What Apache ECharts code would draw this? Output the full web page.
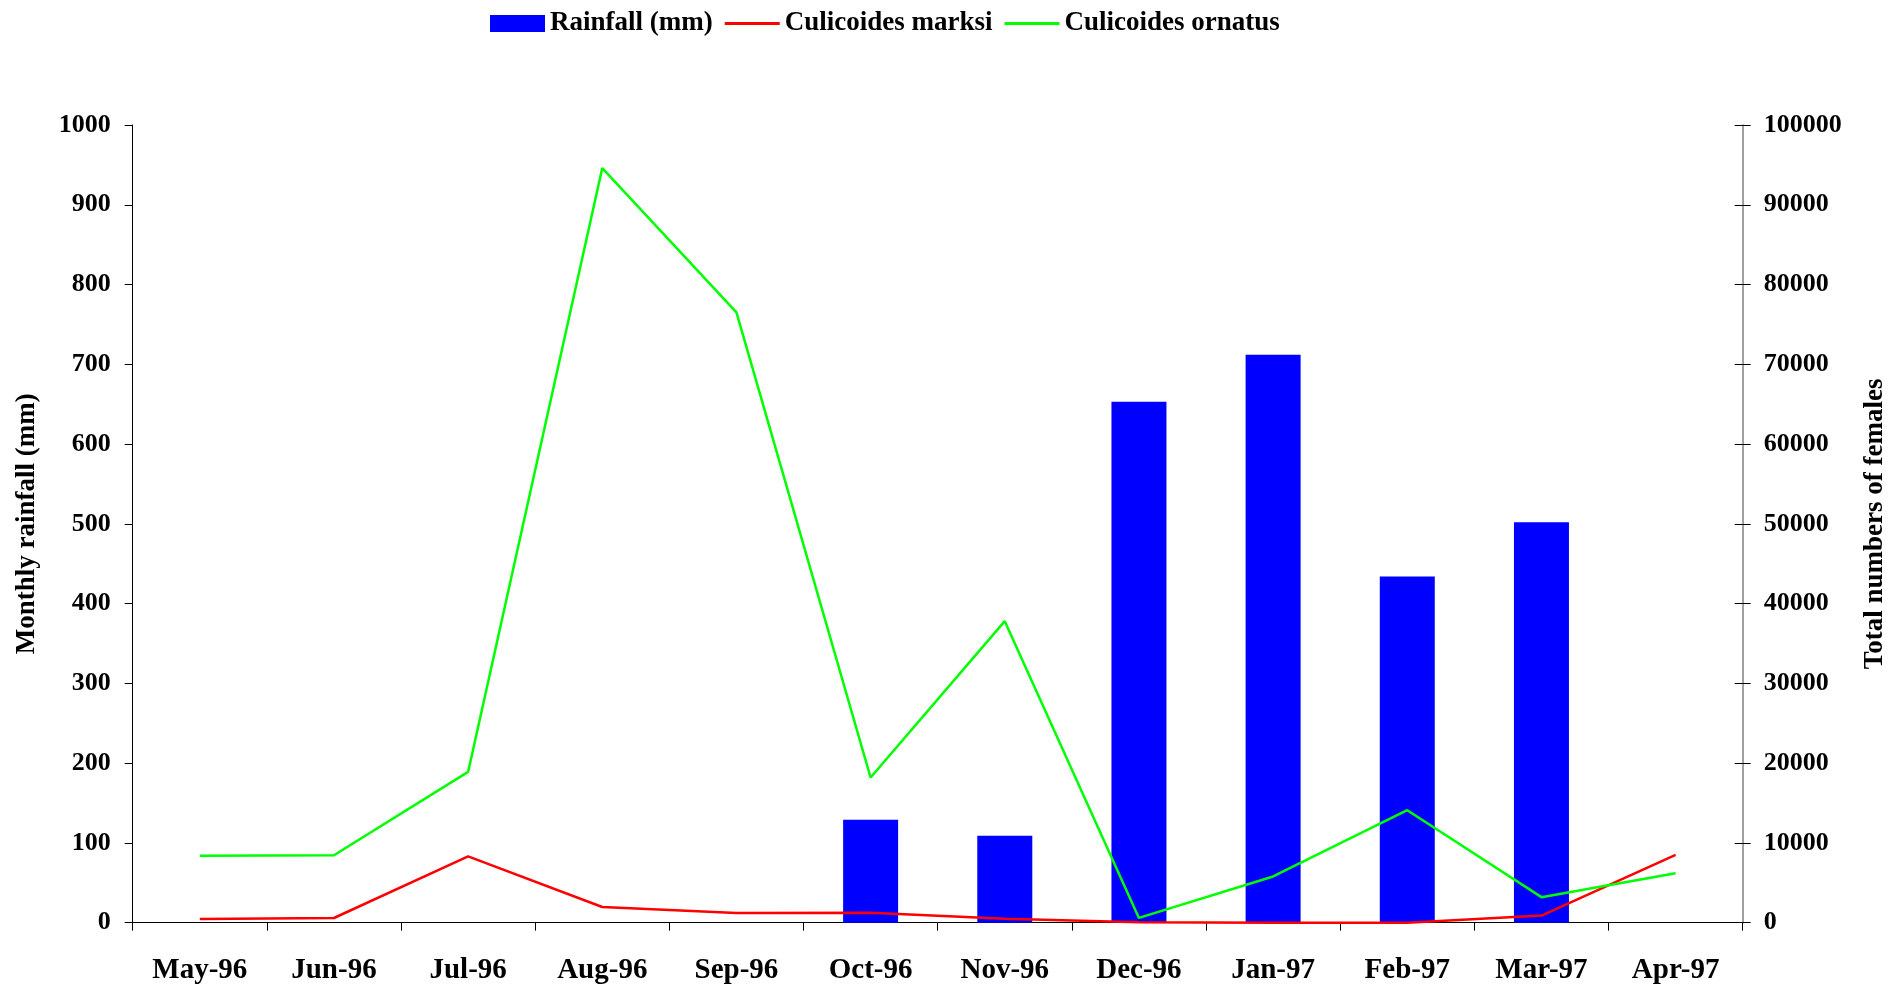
<!DOCTYPE html>
<html>
<head>
<meta charset="utf-8">
<script src="https://cdn.jsdelivr.net/npm/echarts@6/dist/echarts.min.js"></script>
<style>
html,body{margin:0;padding:0;background:#fff;}
#chart{width:1901px;height:987px;}
</style>
</head>
<body>
<div id="chart"></div>
<script>
const categories = ['May-96','Jun-96','Jul-96','Aug-96','Sep-96','Oct-96','Nov-96','Dec-96','Jan-97','Feb-97','Mar-97','Apr-97'];
const rainfall = [0, 0, 0, 0, 0, 129, 109, 653, 712, 434, 502, 0];
const marksi = [460, 590, 8320, 1970, 1220, 1250, 500, 50, 0, 0, 900, 8500];
const ornatus = [8400, 8450, 18900, 94600, 76500, 18200, 37800, 600, 5800, 14100, 3200, 6200];

const FONT = 'Liberation Serif';
const plain = v => String(v);
const lineIcon = 'path://M0,0 L56,0 L56,3 L0,3 Z';
const chart = echarts.init(document.getElementById('chart'));
chart.setOption({
  animation: false,
  backgroundColor: '#ffffff',
  textStyle: {fontFamily: FONT},
  legend: {
    left: 485, top: 5,
    itemWidth: 55, itemHeight: 17, itemGap: 12,
    textStyle: {fontFamily: FONT, fontWeight: 'bold', fontSize: 27, color: '#000'},
    data: [
      {name: 'Rainfall (mm)', icon: 'rect'},
      {name: 'Culicoides marksi', icon: lineIcon},
      {name: 'Culicoides ornatus', icon: lineIcon}
    ]
  },
  grid: {left: 132.7, right: 158.3, top: 125, bottom: 64.3, containLabel: false},
  xAxis: {
    type: 'category',
    data: categories,
    boundaryGap: true,
    axisLine: {lineStyle: {color: '#000', width: 1}},
    axisTick: {show: true, length: 8, inside: false, lineStyle: {color: '#000'}},
    axisLabel: {fontFamily: FONT, fontWeight: 'bold', fontSize: 29, color: '#000', margin: 33, interval: 0},
    splitLine: {show: false}
  },
  yAxis: [
    {
      type: 'value', min: 0, max: 1000, interval: 100, position: 'left',
      name: 'Monthly rainfall (mm)', nameLocation: 'middle', nameRotate: 90, nameGap: 92,
      nameTextStyle: {fontFamily: FONT, fontWeight: 'bold', fontSize: 27, color: '#000'},
      axisLine: {show: true, lineStyle: {color: '#000', width: 1}},
      axisTick: {show: true, length: 8, inside: false, lineStyle: {color: '#000'}},
      axisLabel: {fontFamily: FONT, fontWeight: 'bold', fontSize: 26, color: '#000', margin: 22, formatter: plain},
      splitLine: {show: false}
    },
    {
      type: 'value', min: 0, max: 100000, interval: 10000, position: 'right',
      name: 'Total numbers of females', nameLocation: 'middle', nameRotate: 90, nameGap: 119,
      nameTextStyle: {fontFamily: FONT, fontWeight: 'bold', fontSize: 27, color: '#000'},
      axisLine: {show: true, lineStyle: {color: '#808080', width: 1.5}},
      axisTick: {show: true, length: 8, inside: false, lineStyle: {color: '#000'}},
      axisLabel: {fontFamily: FONT, fontWeight: 'bold', fontSize: 26, color: '#000', margin: 21, formatter: plain},
      splitLine: {show: false}
    },
    {
      type: 'value', min: 0, max: 100000, interval: 10000, position: 'right',
      axisLine: {show: false},
      axisTick: {show: true, length: 8, inside: true, lineStyle: {color: '#000'}},
      axisLabel: {show: false},
      splitLine: {show: false}
    }
  ],
  series: [
    {
      name: 'Rainfall (mm)', type: 'bar', yAxisIndex: 0, data: rainfall,
      barWidth: 55, itemStyle: {color: '#0000ff'}
    },
    {
      name: 'Culicoides marksi', type: 'line', yAxisIndex: 1, data: marksi,
      symbol: 'none', itemStyle: {color: '#ff0000'},
      lineStyle: {color: '#ff0000', width: 2.5}
    },
    {
      name: 'Culicoides ornatus', type: 'line', yAxisIndex: 1, data: ornatus,
      symbol: 'none', itemStyle: {color: '#00ff00'},
      lineStyle: {color: '#00ff00', width: 2.5}
    }
  ]
});
</script>
</body>
</html>
